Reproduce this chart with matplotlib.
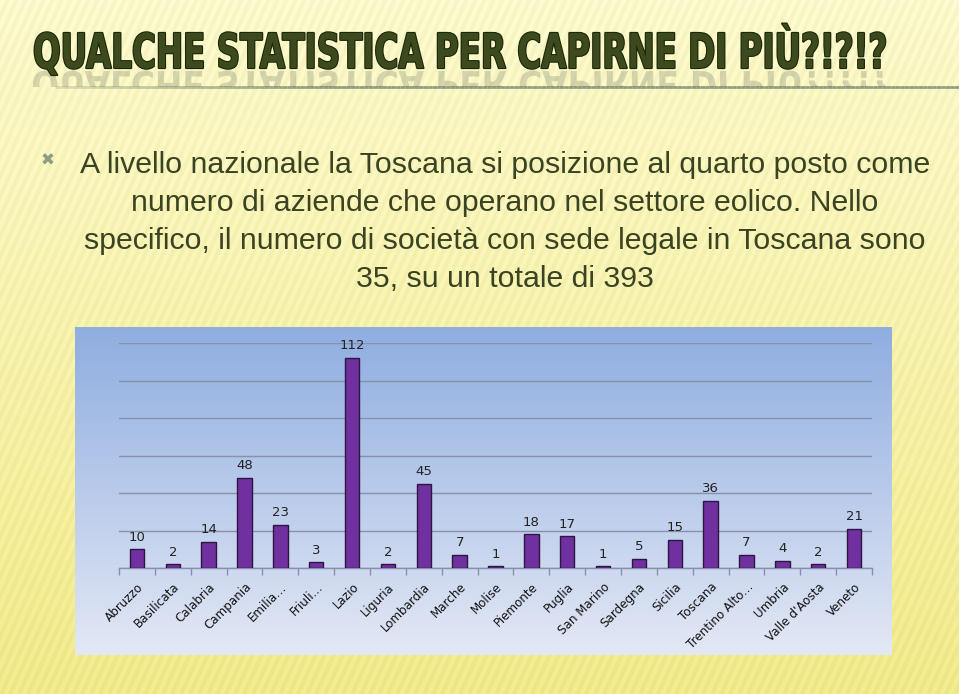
import numpy as np
import matplotlib
matplotlib.use('Agg')
import matplotlib.pyplot as plt
from matplotlib.textpath import TextPath
from matplotlib.patches import PathPatch
from matplotlib.font_manager import FontProperties
from matplotlib.transforms import Affine2D
import matplotlib.patheffects as pe
import matplotlib.colors as mcolors

# ---------------- data ----------------
regions = ["Abruzzo", "Basilicata", "Calabria", "Campania", "Emilia…", "Friuli…",
           "Lazio", "Liguria", "Lombardia", "Marche", "Molise", "Piemonte",
           "Puglia", "San Marino", "Sardegna", "Sicilia", "Toscana",
           "Trentino Alto…", "Umbria", "Valle d'Aosta", "Veneto"]
companies = [10, 2, 14, 48, 23, 3, 112, 2, 45, 7, 1, 18, 17, 1, 5, 15, 36, 7, 4, 2, 21]
y_ticks = [0, 20, 40, 60, 80, 100, 120]

title = "QUALCHE STATISTICA PER CAPIRNE DI PIÙ?!?!?"
body_lines = ["A livello nazionale la Toscana si posizione al quarto posto come",
              "numero di aziende che operano nel settore eolico. Nello",
              "specifico, il numero di società con sede legale in Toscana sono",
              "35, su un totale di 393"]

W, H = 959, 694
fig = plt.figure(figsize=(W / 100, H / 100), dpi=100)


class SqueezeStroke(pe.AbstractPathEffect):
    """Draw text with horizontal condensing / vertical stretch plus a dark outline."""
    def __init__(self, x0, y0, sx, sy, stroke_w, stroke_c):
        super().__init__()
        self.x0, self.y0, self.sx, self.sy = x0, y0, sx, sy
        self.sw = stroke_w
        self.sc = mcolors.to_rgba(stroke_c)

    def draw_path(self, renderer, gc, tpath, affine, rgbFace=None):
        aff = affine + Affine2D().translate(-self.x0, -self.y0).scale(self.sx, self.sy).translate(self.x0, self.y0)
        gc0 = renderer.new_gc()
        gc0.copy_properties(gc)
        gc0.set_linewidth(self.sw)
        gc0.set_foreground(self.sc)
        renderer.draw_path(gc0, tpath, aff, self.sc)
        gc0.restore()
        renderer.draw_path(gc, tpath, aff, rgbFace)


# ---------------- background (pixel coordinates) ----------------
bg = fig.add_axes([0, 0, 1, 1])
bg.set_xlim(0, W)
bg.set_ylim(H, 0)
bg.axis('off')

yy, xx = np.mgrid[0:H, 0:W]
t = yy / H
top = np.array([0.985, 0.975, 0.80])
bot = np.array([0.945, 0.915, 0.54])
img = top[None, None, :] * (1 - t[..., None]) + bot[None, None, :] * t[..., None]
stripe = 0.016 * np.sin((xx + 0.45 * yy) * 2 * np.pi / 9.0)
img = np.clip(img + stripe[..., None] * np.array([1, 1, 1.6]), 0, 1)
bg.imshow(img, extent=[0, W, H, 0], aspect='auto', zorder=0, interpolation='bilinear')

# title underline
n = 200
xs = np.linspace(55, W, n)
for i in range(n - 1):
    a = min(1.0, (xs[i] - 55) / 250)
    bg.plot(xs[i:i + 2], [87, 87], color='#7f8f70', lw=2.0, alpha=0.25 + 0.6 * a,
            solid_capstyle='butt', zorder=2)

# title (real text, condensed via a path effect)
tfp = FontProperties(family='DejaVu Sans', weight='bold')
tx0, tbase, twidth, cap_px = 33, 68, 855, 35.0
ttl = bg.text(tx0, tbase, title, fontproperties=tfp, fontsize=30, color='#3d4a1d',
              va='baseline', ha='left', zorder=4)
fig.canvas.draw()
w30 = ttl.get_window_extent().width
fs = 30 * 880 / w30                    # natural width 880 px (stays inside the figure)
ttl.set_fontsize(fs)
fig.canvas.draw()
bb = ttl.get_window_extent()
sx = twidth / bb.width
sy = cap_px / (0.729 * fs * 100 / 72)
ttl.set_path_effects([SqueezeStroke(bb.x0, H - tbase, sx, sy, 1.6, '#1c2609')])

# reflection of title (decorative)
tp = TextPath((0, 0), title, size=fs, prop=tfp)
ext = tp.get_extents()
k = 100 / 72
rsx = twidth / (ext.width * k)
refl = PathPatch(tp, transform=Affine2D().scale(k * rsx, k * sy * 0.8)
                 .translate(tx0 - ext.x0 * k * rsx, tbase + 3) + bg.transData,
                 facecolor='#60685a', edgecolor='none', alpha=0.25, zorder=3)
bg.add_patch(refl)
clip = plt.Rectangle((0, tbase + 1), W, 86 - tbase, transform=bg.transData)
refl.set_clip_path(clip)

# bullet
bg.text(48, 161, '✖', fontsize=12, color='#8e9c86', ha='center', va='center',
        family='DejaVu Sans', zorder=4)

# body text
bfp = FontProperties(family=['Liberation Sans', 'DejaVu Sans'])
baselines = [173, 211, 249, 287]
txts = []
for line, yb in zip(body_lines, baselines):
    txts.append(bg.text(505, yb, line, fontproperties=bfp, fontsize=20, color='#3a4322',
                        ha='center', va='baseline', zorder=4))
fig.canvas.draw()
w0 = txts[0].get_window_extent().width
bfs = 20 * 850 / w0
for tx in txts:
    tx.set_fontsize(bfs)

# chart box gradient
cx0, cx1, cy0, cy1 = 75, 892, 327, 655
g = np.linspace(0, 1, 256)[:, None]
ctop = np.array([0.56, 0.68, 0.88])
cbot = np.array([0.89, 0.91, 0.96])
cimg = ctop[None, None, :] * (1 - g[..., None]) + cbot[None, None, :] * g[..., None]
cimg = np.repeat(cimg, 2, axis=1)
bg.imshow(cimg, extent=[cx0, cx1, cy1, cy0], aspect='auto', zorder=1, interpolation='bilinear')
bg.set_xlim(0, W)
bg.set_ylim(H, 0)

# ---------------- chart ----------------
pl, pr, pb, pt = 119, 872, 568, 343
ax = fig.add_axes([pl / W, 1 - pb / H, (pr - pl) / W, (pb - pt) / H])
ax.patch.set_alpha(0)
x = np.arange(len(regions))
ax.bar(x, companies, width=0.4, color='#7030a0', edgecolor='#2a1640', linewidth=1.0, zorder=3)
ax.set_xlim(-0.5, len(regions) - 0.5)
ax.set_ylim(0, 120)
ax.set_yticks(y_ticks)
ax.yaxis.grid(True, color='#8690a6', lw=1.0, zorder=0)
ax.tick_params(axis='y', left=False, labelleft=False)
for s in ['top', 'right', 'left']:
    ax.spines[s].set_visible(False)
ax.spines['bottom'].set_color('#8690a6')
ax.spines['bottom'].set_linewidth(1.0)
ax.set_xticks(x)
ax.set_xticklabels(regions, rotation=45, ha='right', rotation_mode='anchor',
                   fontsize=8.6, color='#111111', family='DejaVu Sans')
ax.tick_params(axis='x', which='major', length=0, pad=9)
ax.set_xticks(np.arange(len(regions) + 1) - 0.5, minor=True)
ax.tick_params(axis='x', which='minor', length=5, color='#8690a6', width=1, direction='out')
for xi, v in zip(x, companies):
    ax.annotate(str(v), (xi, v), xytext=(0, 4), textcoords='offset points',
                ha='center', va='bottom', fontsize=9.5, color='#222222', family='DejaVu Sans')

fig.savefig('out.png', dpi=100)
